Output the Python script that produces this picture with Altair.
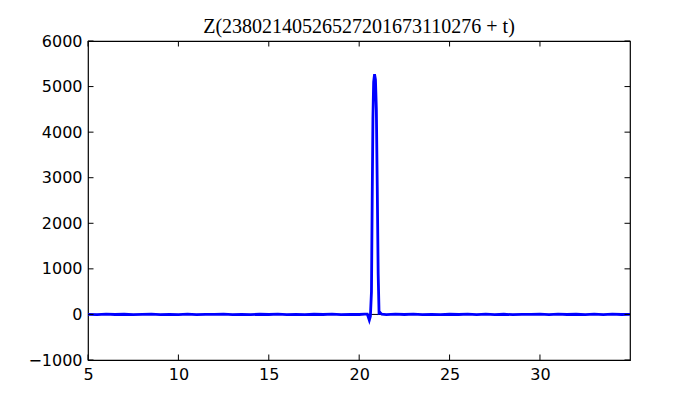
import altair as alt
import pandas as pd

# t positions and Z values
t_vals = [5.0, 5.5, 6.0, 6.5, 7.0, 7.5, 8.0, 8.5, 9.0, 9.5, 10.0, 10.5, 11.0, 11.5,
          12.0, 12.5, 13.0, 13.5, 14.0, 14.5, 15.0, 15.5, 16.0, 16.5, 17.0, 17.5,
          18.0, 18.5, 19.0, 19.5, 20.0, 20.3, 20.45, 20.56, 20.62, 20.68, 20.72,
          20.76, 20.80, 20.85, 20.90, 20.95, 21.00, 21.05, 21.10, 21.16, 21.25,
          21.5, 22.0, 22.5, 23.0, 23.5, 24.0, 24.5, 25.0, 25.5, 26.0, 26.5, 27.0,
          27.5, 28.0, 28.5, 29.0, 29.5, 30.0, 30.5, 31.0, 31.5, 32.0, 32.5, 33.0,
          33.5, 34.0, 34.5, 34.98]
z_vals = [2, -3, 5, -2, 4, -6, 3, 7, -4, 2, -3, 5, -5, 3, -1, 6, -4, 2, -5, 4,
          -2, 6, -3, 2, -6, 4, -2, 5, -4, 3, -1, 8, 6, -125, -40, 500, 2500,
          4300, 5100, 5270, 5150, 4500, 2800, 900, 30, 40, 5,
          -3, 5, -2, 6, -4, 3, -5, 4, -2, 6, -4, 7, -3, 4, -6, 3, -1, 5, -5,
          7, -2, 4, -6, 5, -3, 6, -2, 3]

x_ticks = [5, 10, 15, 20, 25, 30]
y_ticks = [-1000, 0, 1000, 2000, 3000, 4000, 5000, 6000]
title_text = "Z(23802140526527201673110276 + t)"

W, H = 542, 319
XMIN, XMAX = 5, 34.98
YMIN, YMAX = -1000, 6000
TICK = 5.5

df = pd.DataFrame({"t": t_vals, "z": z_vals})
xt = pd.DataFrame({"v": x_ticks})
yt = pd.DataFrame({"v": y_ticks})

xscale = alt.Scale(domain=[XMIN, XMAX], nice=False, zero=False)
yscale = alt.Scale(domain=[YMIN, YMAX], nice=False, zero=False)

axis_common = dict(ticks=False, domain=False, grid=False, labelFont="DejaVu Sans",
                   labelFontSize=16, labelColor="black", title=None,
                   labelFlush=False, labelOverlap=False)

line = alt.Chart(df).mark_line(color="#0000ff", strokeWidth=2.8, clip=True).encode(
    x=alt.X("t:Q", scale=xscale,
            axis=alt.Axis(values=x_ticks, labelPadding=6, format="d", **axis_common)),
    y=alt.Y("z:Q", scale=yscale,
            axis=alt.Axis(values=y_ticks, labelPadding=6, format="d", **axis_common)),
)

hline = alt.Chart(pd.DataFrame({"z": [0]})).mark_rule(color="black", strokeWidth=1).encode(
    y=alt.Y("z:Q", scale=yscale), x=alt.value(0), x2=alt.value(W)
)

bot = alt.Chart(xt).mark_rule(color="black", strokeWidth=1).encode(
    x=alt.X("v:Q", scale=xscale), y=alt.value(H), y2=alt.value(H - TICK))
top = alt.Chart(xt).mark_rule(color="black", strokeWidth=1).encode(
    x=alt.X("v:Q", scale=xscale), y=alt.value(0), y2=alt.value(TICK))
left = alt.Chart(yt).mark_rule(color="black", strokeWidth=1).encode(
    y=alt.Y("v:Q", scale=yscale), x=alt.value(0), x2=alt.value(TICK))
right = alt.Chart(yt).mark_rule(color="black", strokeWidth=1).encode(
    y=alt.Y("v:Q", scale=yscale), x=alt.value(W), x2=alt.value(W - TICK))

chart = alt.layer(hline, line, bot, top, left, right).properties(
    width=W, height=H,
    background="white",
    title=alt.TitleParams(title_text, font="Liberation Serif", fontSize=20,
                          fontWeight="normal", color="black", offset=-4, anchor="middle"),
    autosize=alt.AutoSizeParams(type="none"),
    padding={"left": 80, "top": 33, "right": 62, "bottom": 32},
).configure_view(stroke="black", strokeWidth=1.2)

chart.save("out.html", embed_options={"renderer": "svg", "actions": False})
